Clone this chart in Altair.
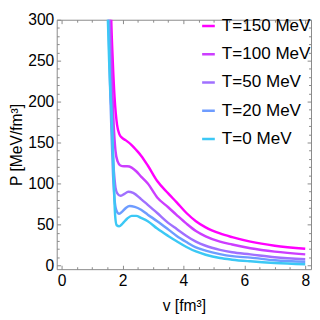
import altair as alt
import pandas as pd

labels = ["T=150 MeV", "T=100 MeV", "T=50 MeV", "T=20 MeV", "T=0 MeV"]
colors = ["#FF00FF", "#CC3DFF", "#A070FF", "#6E9CFF", "#3CC8F5"]

T150_v = [1.61, 1.63, 1.68, 1.74, 1.82, 1.90, 1.98, 2.10, 2.30, 2.45, 2.61, 2.83, 3.14, 3.50, 3.78, 4.10, 4.41, 4.73, 5.20, 5.60, 6.20, 7.00, 8.00]
T150_P = [330, 300, 250, 205, 172, 160, 156, 153, 147, 141, 134, 122, 103, 88, 77, 64, 54, 46.5, 39, 34.5, 29, 24, 20.3]

T100_v = [1.57, 1.59, 1.65, 1.71, 1.77, 1.84, 1.93, 2.05, 2.15, 2.30, 2.45, 2.61, 2.83, 3.14, 3.50, 3.78, 4.10, 4.41, 4.73, 5.20, 5.60, 6.20, 7.00, 8.00]
T100_P = [330, 300, 230, 172, 140, 127, 122, 121, 121, 119.5, 115, 108.5, 100, 83, 71, 61.5, 51, 42, 35.5, 29, 25.5, 21, 16.8, 13.5]

T50_v = [1.54, 1.56, 1.60, 1.65, 1.70, 1.74, 1.77, 1.83, 1.93, 2.05, 2.19, 2.35, 2.61, 2.83, 3.14, 3.50, 3.78, 4.10, 4.41, 4.73, 5.20, 5.60, 6.20, 7.00, 8.00]
T50_P = [330, 300, 230, 170, 125, 105, 95, 88, 85, 87, 90, 88.5, 81, 74, 64, 52, 44.5, 36, 29, 24, 19, 16, 13.5, 10, 7.5]

T20_v = [1.52, 1.54, 1.59, 1.64, 1.69, 1.74, 1.80, 1.89, 2.00, 2.12, 2.24, 2.40, 2.61, 2.83, 3.14, 3.50, 3.78, 4.10, 4.41, 4.73, 5.20, 5.60, 6.20, 7.00, 8.00]
T20_P = [330, 300, 220, 160, 110, 80, 67, 63, 66, 70.5, 72.5, 71.5, 68, 62, 54, 44, 36, 28.5, 22, 18, 13.8, 11.3, 9.5, 6.2, 4.4]

T0_v = [1.50, 1.52, 1.56, 1.60, 1.66, 1.70, 1.73, 1.76, 1.81, 1.89, 2.00, 2.15, 2.30, 2.45, 2.61, 2.83, 3.14, 3.50, 3.78, 4.10, 4.41, 4.73, 5.20, 5.60, 6.20, 7.00, 8.00]
T0_P = [330, 300, 250, 215, 172, 125, 85, 60, 49, 47.7, 51, 57, 60.5, 60.5, 58, 54, 45, 36, 29.5, 22.5, 17, 13, 9, 7, 5, 3, 1.5]

x_major = [0, 2, 4, 6, 8]
x_minor = [0.5, 1, 1.5, 2.5, 3, 3.5, 4.5, 5, 5.5, 6.5, 7, 7.5]
y_major = [0, 50, 100, 150, 200, 250, 300]
y_minor = [v for v in range(10, 300, 10) if v % 50 != 0]

series = [(labels[0], T150_v, T150_P), (labels[1], T100_v, T100_P),
          (labels[2], T50_v, T50_P), (labels[3], T20_v, T20_P),
          (labels[4], T0_v, T0_P)]
rows = []
for lab, vs, ps in series:
    for i, (v, p) in enumerate(zip(vs, ps)):
        rows.append({"v": v, "P": p, "T": lab, "o": i})
df = pd.DataFrame(rows)

FONT = "Liberation Sans"
FS = 16
GRAY = "#888888"

xs = alt.Scale(domain=[-0.16, 8.19], nice=False, zero=False)
ys = alt.Scale(domain=[-4.6, 300], nice=False, zero=False)

def ax(orient, values, size, labels_on=False, title="", **kw):
    d = dict(orient=orient, values=values, tickSize=size, offset=-size,
             domain=False, grid=False, labels=labels_on, tickColor=GRAY,
             tickWidth=1, title=title, labelFont=FONT, labelFontSize=FS,
             labelColor="black", titleFont=FONT, titleFontSize=FS,
             titleFontWeight="normal", titleColor="black")
    d.update(kw)
    return alt.Axis(**d)

main = alt.Chart(df).mark_line(strokeWidth=2.5, clip=True, interpolate="monotone").encode(
    x=alt.X("v:Q", scale=xs, axis=ax("bottom", x_major, 4, True, "v [fm³]",
                                     labelPadding=4, titlePadding=9)),
    y=alt.Y("P:Q", scale=ys, axis=ax("left", y_major, 4, True, "P [MeV/fm³]",
                                     labelPadding=3, titlePadding=3)),
    color=alt.Color("T:N", scale=alt.Scale(domain=labels, range=colors),
                    legend=alt.Legend(orient="none", legendX=147, legendY=-8,
                                      title=None, symbolType="stroke",
                                      symbolStrokeWidth=2.5, symbolSize=169,
                                      labelFont=FONT, labelFontSize=17.5,
                                      labelOffset=5, rowPadding=0,
                                      clipHeight=28.7,
                                      padding=0, labelColor="black")),
    order="o:Q",
)

def ghost(xorient, yorient, xv, yv, size):
    return alt.Chart(df).mark_line(opacity=0, clip=True).encode(
        x=alt.X("v:Q", scale=xs, axis=ax(xorient, xv, size)),
        y=alt.Y("P:Q", scale=ys, axis=ax(yorient, yv, size)),
        detail="T:N",
    )

chart = alt.layer(
    main,
    ghost("top", "right", x_major, y_major, 4),
    ghost("bottom", "left", x_minor, y_minor, 2.5),
    ghost("top", "right", x_minor, y_minor, 2.5),
).resolve_axis(x="independent", y="independent").properties(
    width=261, height=256,
    autosize=alt.AutoSizeParams(type="none"),
    padding={"left": 50, "top": 8, "right": 1, "bottom": 44},
).configure_view(stroke=GRAY, strokeWidth=1)

chart.save("out.html", embed_options={"renderer": "svg", "actions": False})
